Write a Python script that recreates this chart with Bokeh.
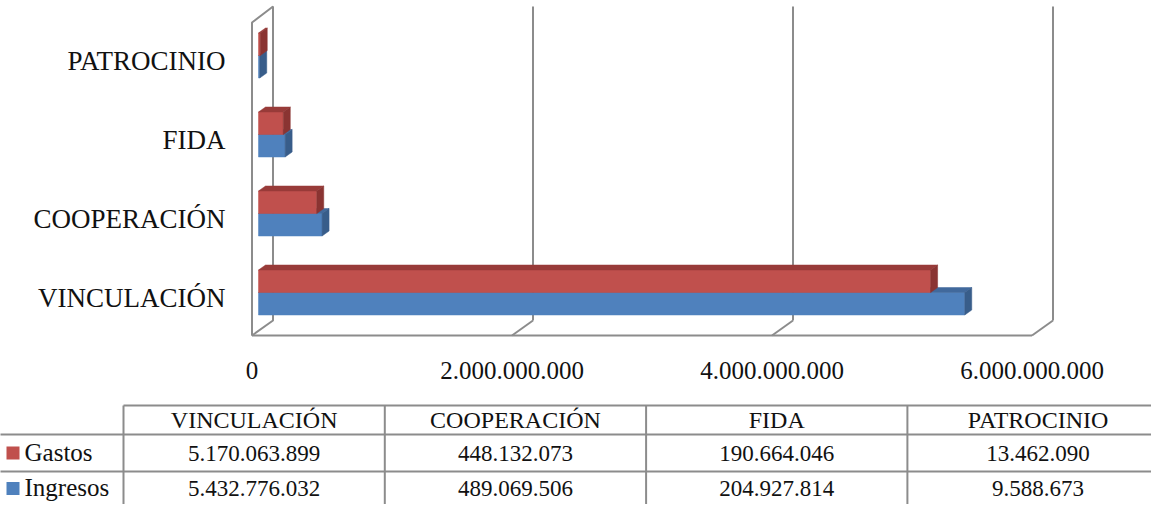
from bokeh.plotting import figure
from bokeh.models import Range1d
from bokeh.core.properties import value
from bokeh.embed import file_html
from bokeh.resources import INLINE

# ---------------- data ----------------
categories = ["VINCULACIÓN", "COOPERACIÓN", "FIDA", "PATROCINIO"]
gastos = [5170063899, 448132073, 190664046, 13462090]
ingresos = [5432776032, 489069506, 204927814, 9588673]
series_names = ["Gastos", "Ingresos"]
x_ticks = [0, 2000000000, 4000000000, 6000000000]
tick_labels = ["0", "2.000.000.000", "4.000.000.000", "6.000.000.000"]

# ---------------- layout / style ----------------
W, H = 1151, 504
K = 130 / 1e9          # pixels per unit on the front plane
X0 = 251.5             # pixel position of value 0 on the front plane
FONT = value("Liberation Serif")
GRID = "#8c8c8c"
TXT = "#111111"

BLUE_F, BLUE_T, BLUE_S = "#4f81bd", "#41699c", "#385d8a"
RED_F, RED_T, RED_S = "#c0504d", "#983b39", "#8a3432"


def dx(px):
    return px / K


def xd(px):
    return (px - X0) / K


p = figure(width=W, height=H, x_range=Range1d(xd(0), xd(W)), y_range=Range1d(H, 0),
           output_backend="svg", toolbar_location=None, min_border=0,
           x_axis_location=None, y_axis_location=None)
p.grid.visible = False
p.outline_line_color = None
p.background_fill_color = "white"
p.border_fill_color = "white"

# ---------------- 3D frame (walls and floor) ----------------
FLOOR_F, FLOOR_B, TOP_B, TOP_F, DEPTH = 335, 320, 6, 22, 21
xmax = x_ticks[-1]
p.patch(x=[0, dx(DEPTH), dx(DEPTH), 0], y=[FLOOR_F, FLOOR_B, TOP_B, TOP_F],
        fill_color="white", line_color=GRID, line_width=2)
gx = x_ticks[1:]
p.segment(x0=[v + dx(DEPTH) for v in gx], y0=[FLOOR_B] * len(gx),
          x1=[v + dx(DEPTH) for v in gx], y1=[TOP_B] * len(gx),
          line_color=GRID, line_width=2)
p.segment(x0=gx, y0=[FLOOR_F] * len(gx),
          x1=[v + dx(DEPTH) for v in gx], y1=[FLOOR_B] * len(gx),
          line_color=GRID, line_width=2)
p.segment(x0=[0], y0=[FLOOR_F], x1=[xmax], y1=[FLOOR_F], line_color=GRID, line_width=2)

# ---------------- 3D bars ----------------
BAR_OFF, BDX, BDY, BAR_H = 6.5, 7, 5, 22.5
Y_B0, STEP = 292, 79
bounds = [Y_B0 - STEP * i for i in range(len(categories))]


def draw_series(vals, tops, fc, tc, sc):
    x0 = [dx(BAR_OFF)] * len(vals)
    x1 = [v + dx(BAR_OFF) for v in vals]
    bots = [t + BAR_H for t in tops]
    p.quad(left=x0, right=x1, top=tops, bottom=bots, fill_color=fc, line_color=fc, line_width=0.5)
    top_xs = [[a, b, b + dx(BDX), a + dx(BDX)] for a, b in zip(x0, x1)]
    top_ys = [[t, t, t - BDY, t - BDY] for t in tops]
    p.patches(xs=top_xs, ys=top_ys, fill_color=tc, line_color=tc, line_width=0.5)
    side_xs = [[b, b + dx(BDX), b + dx(BDX), b] for b in x1]
    side_ys = [[t, t - BDY, bt - BDY, bt] for t, bt in zip(tops, bots)]
    p.patches(xs=side_xs, ys=side_ys, fill_color=sc, line_color=sc, line_width=0.5)


draw_series(ingresos, bounds, BLUE_F, BLUE_T, BLUE_S)
draw_series(gastos, [b - BAR_H for b in bounds], RED_F, RED_T, RED_S)

# ---------------- axis labels ----------------
p.text(x=[xd(225)] * len(categories), y=[b + 5 for b in bounds], text=categories,
       text_align="right", text_baseline="middle", text_font=FONT,
       text_font_size="27px", text_color=TXT)
p.text(x=x_ticks, y=[369.5] * len(x_ticks), text=tick_labels,
       text_align="center", text_baseline="middle", text_font=FONT,
       text_font_size="25px", text_color=TXT)

# ---------------- data table ----------------
T_TOP, T_H1, T_R1, T_R2 = 405, 434, 471, 520
C_LEFT, C_LAB = -2, 123
C_W = 261.3
col_edges = [C_LAB + C_W * i for i in range(len(categories) + 1)]
RIGHT = W + 20

hx0 = [xd(C_LAB), xd(C_LEFT), xd(C_LEFT)]
hy = [T_TOP, T_H1, T_R1]
p.segment(x0=hx0, y0=hy, x1=[xd(RIGHT)] * 3, y1=hy, line_color=GRID, line_width=2)
vx = [C_LEFT] + col_edges
vy0 = [T_H1] + [T_TOP] * len(col_edges)
p.segment(x0=[xd(v) for v in vx], y0=vy0, x1=[xd(v) for v in vx], y1=[T_R2] * len(vx),
          line_color=GRID, line_width=2)

col_centers = [xd((col_edges[i] + col_edges[i + 1]) / 2) for i in range(len(categories))]
p.text(x=col_centers, y=[419.5] * len(categories), text=categories, text_align="center",
       text_baseline="middle", text_font=FONT, text_font_size="24px", text_color=TXT)


def fmt(v):
    return f"{v:,}".replace(",", ".")


row_y = [452.5, 488]
for vals, yy in zip([gastos, ingresos], row_y):
    p.text(x=col_centers, y=[yy] * len(vals), text=[fmt(v) for v in vals], text_align="center",
           text_baseline="middle", text_font=FONT, text_font_size="23px", text_color=TXT)

# legend keys inside table
sq_top = [446, 481.5]
p.quad(left=[xd(6)] * 2, right=[xd(19)] * 2, top=sq_top, bottom=[t + 13 for t in sq_top],
       fill_color=[RED_F, BLUE_F], line_color=None)
p.text(x=[xd(24)] * 2, y=[r - 1 for r in row_y], text=series_names, text_align="left",
       text_baseline="middle", text_font=FONT, text_font_size="25px", text_color=TXT)

open("out.html", "w").write(file_html(p, INLINE))
